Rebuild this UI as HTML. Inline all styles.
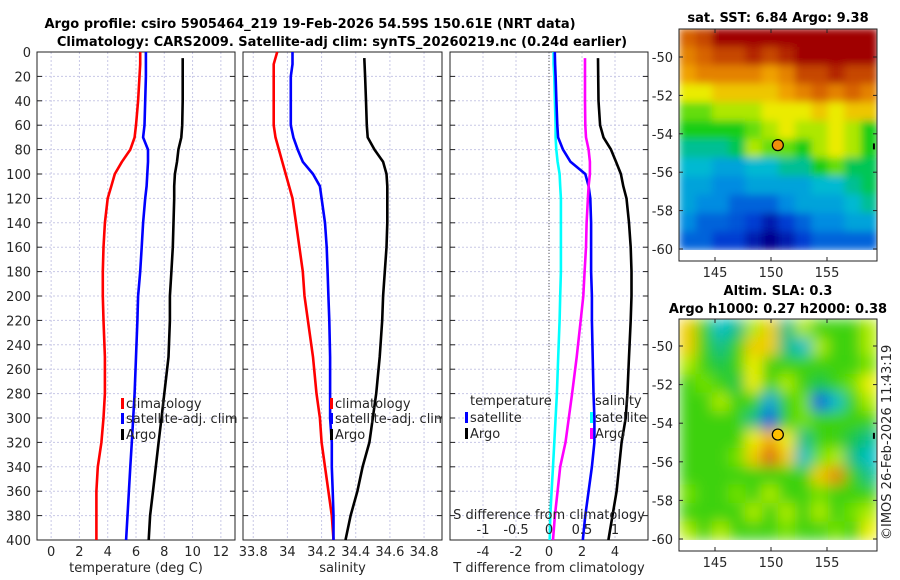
<!DOCTYPE html>
<html><head><meta charset="utf-8">
<style>
html,body{margin:0;padding:0;background:#fff;}
svg{display:block;font-family:"DejaVu Sans","Liberation Sans",sans-serif;}
.tk{font-size:13px;fill:#262626;}
.tt{font-size:13px;font-weight:bold;fill:#000;}
</style></head>
<body>
<svg id="chart" width="900" height="580" viewBox="0 0 900 580">
<defs>
<filter id="blur1" x="0" y="0" width="1" height="1"><feGaussianBlur stdDeviation="4" edgeMode="duplicate"/></filter>
<filter id="blur2" x="0" y="0" width="1" height="1"><feGaussianBlur stdDeviation="7" edgeMode="duplicate"/></filter>
<clipPath id="c1"><rect x="679" y="29" width="198" height="221"/></clipPath>
<clipPath id="c2"><rect x="679" y="319" width="198" height="221"/></clipPath>
<clipPath id="p2clip"><rect x="243" y="52" width="199" height="488"/></clipPath>
</defs>
<text class="tt" x="310" y="28" text-anchor="middle">Argo profile: csiro 5905464_219 19-Feb-2026 54.59S 150.61E (NRT data)</text>
<text class="tt" x="342" y="46" text-anchor="middle">Climatology: CARS2009. Satellite-adj clim: synTS_20260219.nc (0.24d earlier)</text>
<text class="tt" x="778" y="22" text-anchor="middle">sat. SST: 6.84 Argo: 9.38</text>
<text class="tt" x="778" y="295" text-anchor="middle">Altim. SLA: 0.3</text>
<text class="tt" x="778" y="313" text-anchor="middle">Argo h1000: 0.27 h2000: 0.38</text>
<text class="tk" transform="translate(891,540) rotate(-90)">©IMOS 26-Feb-2026 11:43:19</text>
<g id="g"></g>
</svg>
<script>
// ---- data ----
const depthClim = [0,10,20,40,60,70,80,90,100,110,120,140,160,180,200,220,250,280,300,320,340,360,380,400];
const depthArgo = [5,20,40,60,70,80,90,100,110,120,140,160,180,200,220,250,280,300,320,340,360,380,400];
const tempClim = [6.3,6.3,6.25,6.15,6.0,5.9,5.6,5.0,4.5,4.25,4.0,3.8,3.7,3.65,3.65,3.7,3.8,3.8,3.7,3.55,3.3,3.2,3.2,3.2];
const tempSat = [6.7,6.7,6.7,6.65,6.6,6.5,6.85,6.85,6.8,6.75,6.65,6.5,6.4,6.3,6.15,6.1,6.0,5.9,5.8,5.7,5.6,5.5,5.4,5.3];
const tempArgo = [9.3,9.3,9.3,9.27,9.2,9.0,8.9,8.75,8.7,8.7,8.65,8.6,8.5,8.4,8.4,8.3,8.0,7.8,7.6,7.4,7.2,7.0,6.9];
const salClim = [33.94,33.92,33.92,33.92,33.92,33.93,33.95,33.97,33.99,34.01,34.03,34.05,34.07,34.09,34.1,34.12,34.15,34.17,34.19,34.2,34.22,34.24,34.26,34.27];
const salSat = [34.03,34.03,34.02,34.02,34.02,34.035,34.06,34.09,34.15,34.19,34.2,34.22,34.23,34.235,34.24,34.245,34.25,34.25,34.25,34.26,34.26,34.265,34.27,34.27];
const salArgo = [34.45,34.455,34.46,34.465,34.47,34.51,34.56,34.58,34.585,34.585,34.585,34.58,34.57,34.56,34.555,34.54,34.52,34.5,34.48,34.44,34.41,34.37,34.34];
const dTempSat = [0.35,0.37,0.4,0.45,0.5,0.55,0.85,1.3,2.2,2.4,2.5,2.55,2.55,2.55,2.6,2.6,2.65,2.7,2.75,2.75,2.6,2.4,2.2,2.05];
const dSalSat = [0.07,0.07,0.08,0.09,0.1,0.1,0.11,0.13,0.16,0.17,0.18,0.18,0.18,0.18,0.17,0.16,0.14,0.12,0.1,0.08,0.06,0.04,0.02,0.01];
const dTempArgo = [2.97,2.98,3.0,3.1,3.3,3.76,4.06,4.36,4.5,4.7,4.85,4.95,5.0,5.0,4.95,4.85,4.75,4.65,4.4,4.25,4.1,3.85,3.6];
const dSalArgo = [0.545,0.545,0.545,0.55,0.56,0.6,0.62,0.62,0.6,0.59,0.57,0.56,0.54,0.52,0.48,0.42,0.35,0.3,0.25,0.17,0.13,0.09,0.06];
const depthTicks = [0,20,40,60,80,100,120,140,160,180,200,220,240,260,280,300,320,340,360,380,400];
const tTicks = [0,2,4,6,8,10,12];
const sTicks = [33.8,34,34.2,34.4,34.6,34.8];
const sTickLabels = ["33.8","34","34.2","34.4","34.6","34.8"];
const dtTicks = [-4,-2,0,2,4];
const dsTicks = [-1,-0.5,0,0.5,1];
const dsTickLabels = ["-1","-0.5","0","0.5","1"];
const latTicks = [-50,-52,-54,-56,-58,-60];
const lonTicks = [145,150,155];
const argoLon = 150.61, argoLat = -54.59;
const sstGrid = [
[10.5,11,12,12,12,12,12,12,12,12,12,12],
[10,10.5,11,11,11.5,11,11.5,12,12,12,12,12],
[9.5,10,10,10,10,9.5,10,11,11,11.5,11,11],
[8.5,8.5,9,9,9,9,9.5,10,10.5,10,10.5,10],
[7.5,7.5,8,8,8,8.5,8.5,8.5,9,8.5,9,9],
[7,7,7,7,7.5,8,8.5,8,8,8.5,8,7],
[6,6,6,6.5,8,7.5,7.5,7,8,8.5,8,7],
[5.5,5.5,5,5,5.5,5.5,6,6,7,7.5,6.5,6.5],
[5,5,4.5,4.5,5,5,5,5,5.5,5.5,6,6.5],
[5,4.5,4.5,4,4,4,4.5,5,5,5,5.5,6],
[4.5,4,4,3.8,3.5,3,3.5,4,4.5,4.5,5,5],
[4,4,3.5,3.5,3,2.5,3,3.5,4,4,4,4]];
const slaGrid = [
[0.5,0.3,0.15,0.2,0.4,0.5,0.2,0.4,0.3,0.3,0.3,0.4],
[0.5,0.3,0.2,0.3,0.5,0.5,0.2,0.15,0.4,0.3,0.3,0.4],
[0.4,0.3,0.25,0.3,0.45,0.3,0.3,0.3,0.3,0.3,0.3,0.35],
[0.3,0.35,0.3,0.25,0.45,0.3,0.4,0.3,0.25,0.3,0.35,0.45],
[0.3,0.3,0.4,0.3,0.3,0.1,0.3,0.35,0.0,0.15,0.3,0.4],
[0.3,0.3,0.3,0.3,0.2,0.0,0.3,0.35,0.3,0.3,0.3,0.3],
[0.3,0.3,0.3,0.3,0.45,0.55,0.45,0.2,0.3,0.3,0.25,0.2],
[0.3,0.3,0.3,0.35,0.5,0.65,0.5,0.15,0.35,0.4,0.2,0.15],
[0.3,0.3,0.3,0.3,0.3,0.3,0.3,0.3,0.5,0.6,0.3,0.2],
[0.35,0.3,0.3,0.35,0.3,0.4,0.3,0.3,0.35,0.3,0.3,0.3],
[0.3,0.3,0.3,0.3,0.4,0.3,0.4,0.3,0.4,0.3,0.35,0.4],
[0.4,0.3,0.4,0.3,0.3,0.3,0.35,0.3,0.3,0.35,0.3,0.45]];

const NS='http://www.w3.org/2000/svg';
const G=document.getElementById('g');
function mk(tag,attrs,parent){const e=document.createElementNS(NS,tag);for(const k in attrs)e.setAttribute(k,attrs[k]);(parent||G).appendChild(e);return e;}
const Y0=52,Y1=540;
const yD=d=>Y0+(d/400)*(Y1-Y0);
const lin=(d0,d1,r0,r1)=>v=>r0+(v-d0)/(d1-d0)*(r1-r0);
const panels=[
 {x0:37,x1:235,sx:lin(-1,13,37,235),ticks:tTicks,labels:tTicks.map(String),name:'temperature-panel',title:'temperature (deg C)'},
 {x0:243,x1:442,sx:lin(33.74,34.905,243,442),ticks:sTicks,labels:sTickLabels,name:'salinity-panel',title:'salinity'},
 {x0:450,x1:648,sx:lin(-6,6,450,648),ticks:dtTicks,labels:dtTicks.map(String),name:'difference-panel',title:'T difference from climatology'}];
const sxS=lin(-1.5,1.5,450,648);

panels.forEach((p,i)=>{
 const g=mk('g',{});
 
 
 depthTicks.forEach(d=>{ if(d>0&&d<400){const l=mk('line',{x1:p.x0,x2:p.x1,y1:yD(d),y2:yD(d),stroke:'#c8c8e6','stroke-width':1,'stroke-dasharray':'2,2'},g);
   }
  const t1=mk('line',{x1:p.x0,x2:p.x0+5,y1:yD(d),y2:yD(d),stroke:'#222'},g);
  
  const t2=mk('line',{x1:p.x1-5,x2:p.x1,y1:yD(d),y2:yD(d),stroke:'#222'},g);
  
 });
 p.ticks.forEach((v,j)=>{const x=p.sx(v);
  const l=mk('line',{x1:x,x2:x,y1:Y0,y2:Y1,stroke:'#c8c8e6','stroke-dasharray':'2,2'},g);
  
  const t=mk('text',{x:x,y:556,'text-anchor':'middle',class:'tk'},g);t.textContent=p.labels[j];
  
 });
 const at=mk('text',{x:(p.x0+p.x1)/2,y:572,'text-anchor':'middle',class:'tk'},g);at.textContent=p.title;
 
 const r=mk('rect',{x:p.x0,y:Y0,width:p.x1-p.x0,height:Y1-Y0,fill:'none',stroke:'#222','stroke-width':1},g);
 
});
depthTicks.forEach(d=>{const t=mk('text',{x:31,y:yD(d)+5,'text-anchor':'end',class:'tk'});t.textContent=String(d);
 });

function line(xs,ds,sx,color,name){
 const pts=xs.map((v,i)=>sx(v).toFixed(1)+','+yD(ds[i]).toFixed(1)).join(' ');
 const pl=mk('polyline',{points:pts,fill:'none',stroke:color,'stroke-width':2.6,'stroke-linejoin':'round'});
 
}
const zl=mk('line',{x1:panels[2].sx(0),x2:panels[2].sx(0),y1:Y0,y2:Y1,stroke:'#555','stroke-dasharray':'1,2'});

line(tempClim,depthClim,panels[0].sx,'#ff0000','temp-climatology-line');
line(tempSat,depthClim,panels[0].sx,'#0000ff','temp-satellite-line');
line(tempArgo,depthArgo,panels[0].sx,'#000','temp-argo-line');
line(salClim,depthClim,panels[1].sx,'#ff0000','sal-climatology-line');
line(salSat,depthClim,panels[1].sx,'#0000ff','sal-satellite-line');
line(salArgo,depthArgo,panels[1].sx,'#000','sal-argo-line');
line(dSalSat,depthClim,sxS,'#00ffff','dsal-satellite-line');
line(dTempSat,depthClim,panels[2].sx,'#0000ff','dtemp-satellite-line');
line(dSalArgo,depthArgo,sxS,'#ff00ff','dsal-argo-line');
line(dTempArgo,depthArgo,panels[2].sx,'#000','dtemp-argo-line');

const sl=mk('text',{x:549,y:519,'text-anchor':'middle',class:'tk'});sl.textContent='S difference from climatology';

dsTicks.forEach((v,j)=>{const t=mk('text',{x:sxS(v),y:534,'text-anchor':'middle',class:'tk'});t.textContent=dsTickLabels[j];
 });

function leg(x,y,color,label,clip){
 const g=mk('g',clip?{'clip-path':'url(#p2clip)'}:{});
 
 mk('rect',{x:x,y:y-10,width:3,height:11,fill:color},g);
 const t=mk('text',{x:x+5,y:y,class:'tk'},g);t.textContent=label;
}
leg(121,408,'#ff0000','climatology');leg(121,423,'#0000ff','satellite-adj. clim');leg(121,439,'#000','Argo');
leg(330,408,'#ff0000','climatology',true);leg(330,423,'#0000ff','satellite-adj. clim',true);leg(330,439,'#000','Argo',true);
const lt=mk('text',{x:470,y:405,class:'tk'});lt.textContent='temperature';
const ls=mk('text',{x:595,y:405,class:'tk'});ls.textContent='salinity';
leg(465,422,'#0000ff','satellite');leg(465,438,'#000','Argo');
leg(590,422,'#00ffff','satellite');leg(590,438,'#ff00ff','Argo');

// colour scales (style, not data)
const sstStops=[[2.5,[0,0,140]],[3.5,[0,60,210]],[4.5,[0,140,225]],[5.5,[0,185,210]],[6.3,[0,195,110]],[7.0,[20,205,20]],[7.8,[150,230,0]],[8.5,[235,235,0]],[9.5,[240,160,0]],[10.5,[215,100,0]],[11.5,[180,40,0]],[12,[160,0,0]]];
const slaStops=[[-0.05,[0,40,220]],[0.05,[0,140,230]],[0.15,[0,190,200]],[0.22,[0,190,110]],[0.3,[60,210,10]],[0.38,[150,235,0]],[0.45,[240,240,0]],[0.55,[240,170,0]],[0.65,[220,100,20]]];
function cmap(stops,v){
 if(v<=stops[0][0])return 'rgb('+stops[0][1].join(',')+')';
 for(let i=1;i<stops.length;i++){if(v<=stops[i][0]){const a=stops[i-1],b=stops[i],t=(v-a[0])/(b[0]-a[0]);
  return 'rgb('+a[1].map((c,k)=>Math.round(c+(b[1][k]-c)*t)).join(',')+')';}}
 return 'rgb('+stops[stops.length-1][1].join(',')+')';
}
const lonX=lin(145,155,715,827);
function drawMap(grid,stops,blur,top,latTop,latBot,clip,name,mfill){
 const latY=lin(-50,-60,top.y50,top.y60);
 const g=mk('g',{});
 const cg=mk('g',{'clip-path':'url(#'+clip+')'},g);
 const hg=mk('g',{filter:'url(#'+blur+')'},cg);
 const rows=grid.length,cols=grid[0].length;
 const lon0=141.8,lon1=159.5;
 grid.forEach((row,i)=>row.forEach((v,j)=>{
  const x0=lonX(lon0+(lon1-lon0)*j/cols),x1=lonX(lon0+(lon1-lon0)*(j+1)/cols);
  const y0=latY(latTop+(latBot-latTop)*i/rows),y1=latY(latTop+(latBot-latTop)*(i+1)/rows);
  const c=mk('rect',{x:x0,y:y0,width:x1-x0+0.5,height:y1-y0+0.5,fill:cmap(stops,v)},hg);
  
 }));
 const fr=mk('rect',{x:679,y:top.frameTop,width:198,height:top.frameBot-top.frameTop,fill:'none',stroke:'#222'},g);
 
 latTicks.forEach(l=>{const y=latY(l);
  mk('line',{x1:679,x2:683,y1:y,y2:y,stroke:'#222'},g);mk('line',{x1:873,x2:877,y1:y,y2:y,stroke:'#222'},g);
  const t=mk('text',{x:673,y:y+5,'text-anchor':'end',class:'tk'},g);t.textContent=String(l);
  });
 lonTicks.forEach(l=>{const x=lonX(l);
  mk('line',{x1:x,x2:x,y1:top.frameBot-4,y2:top.frameBot,stroke:'#222'},g);mk('line',{x1:x,x2:x,y1:top.frameTop,y2:top.frameTop+4,stroke:'#222'},g);
  const t=mk('text',{x:x,y:top.frameBot+16,'text-anchor':'middle',class:'tk'},g);t.textContent=String(l);
  });
 const m=mk('circle',{cx:lonX(argoLon),cy:latY(argoLat),r:5.5,fill:mfill,stroke:'#000','stroke-width':1.2},g);
 
 mk('rect',{x:lonX(159.1),y:latY(-54.5),width:2,height:6,fill:'#000'},g);
}
drawMap(sstGrid,sstStops,'blur1',{y50:57,y60:249,frameTop:29,frameBot:261},-48.5,-60.05,'c1','sst-map','#f0900a');
drawMap(slaGrid,slaStops,'blur2',{y50:346,y60:539,frameTop:319,frameBot:551},-48.6,-60.05,'c2','sla-map','#ffc000');
</script>
</body></html>
